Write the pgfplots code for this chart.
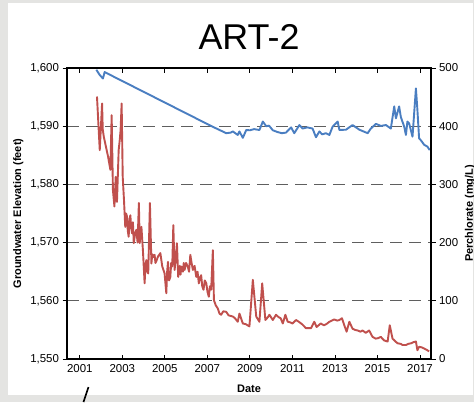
\documentclass[border=0pt]{standalone}
\usepackage{pgfplots}
\pgfplotsset{compat=1.18}
\usepackage{fontspec}
\setmainfont{Liberation Sans}
\definecolor{gwblue}{RGB}{74,126,193}
\definecolor{pcred}{RGB}{192,80,77}
\definecolor{bggray}{RGB}{228,228,226}
\definecolor{griddash}{RGB}{95,95,95}
\begin{document}
\begin{tikzpicture}[x=1bp,y=1bp]
\useasboundingbox (0,0) rectangle (474,402);
\fill[bggray] (0,0) rectangle (474,402);
\fill[white] (8,7) rectangle (473,399);
\draw[black,line width=1.6bp] (88.5,15) -- (86.5,9) -- (83.5,0);
\node[font=\fontsize{36}{40}\selectfont] at (249,365) {ART-2};
\begin{axis}[
  at={(67bp,43bp)}, anchor=south west,
  scale only axis, width=364bp, height=291bp,
  xmin=2000.4, xmax=2017.52,
  ymin=1550, ymax=1600,
  xtick={2001,2003,...,2017},
  ytick={1550,1560,...,1600},
  xtick pos=both, ytick pos=left,
  xtick align=inside, ytick align=outside,
  major tick length=4.5bp,
  tick style={black, line width=0.8bp},
  axis line style={black, line width=1.5bp},
  ymajorgrids,
  major grid style={griddash, line width=0.9bp, dash pattern=on 12bp off 7bp},
  /pgf/number format/assume math mode=true,
  xticklabel style={font=\fontsize{11.5}{13}\selectfont, /pgf/number format/1000 sep={}, yshift=-2bp},
  yticklabel style={font=\fontsize{11.5}{13}\selectfont, /pgf/number format/1000 sep={,}},
  xlabel={Date},
  ylabel={Groundwater Elevation (feet)},
  xlabel style={font=\bfseries\fontsize{11}{13}\selectfont, yshift=-5bp},
  ylabel style={font=\bfseries\fontsize{11}{13}\selectfont},
  clip=true,
]
\addplot[gwblue, line width=1.9bp, line join=round] coordinates {
(2001.78,1599.7) (2001.94,1598.8) (2002.09,1598.2) (2002.17,1599.3)
(2007.2,1590.0) (2007.89,1588.8) (2008.1,1588.9) (2008.2,1589.1)
(2008.43,1588.5) (2008.51,1589.1) (2008.67,1588.0) (2008.83,1589.35)
(2009.0,1589.3) (2009.2,1589.5) (2009.45,1589.35) (2009.61,1590.8)
(2009.77,1590.0) (2009.9,1590.1) (2010.08,1589.3) (2010.3,1589.0)
(2010.5,1588.8) (2010.70,1588.9) (2010.94,1589.8) (2011.09,1588.8)
(2011.33,1590.2) (2011.48,1589.6) (2011.7,1589.8) (2011.95,1589.6)
(2012.11,1588.1) (2012.27,1589.1) (2012.4,1588.6) (2012.58,1588.8)
(2012.74,1588.5) (2012.89,1589.9) (2013.13,1590.8) (2013.21,1589.35)
(2013.52,1589.4) (2013.83,1590.2) (2014.15,1589.4) (2014.54,1588.8)
(2014.69,1589.6) (2014.93,1590.4) (2015.16,1590.05) (2015.40,1590.2)
(2015.63,1589.6) (2015.79,1593.4) (2015.87,1591.35) (2016.02,1593.4)
(2016.10,1591.6) (2016.26,1589.9) (2016.34,1588.5) (2016.41,1590.8)
(2016.49,1590.5) (2016.65,1588.2) (2016.81,1596.5) (2016.88,1592.8)
(2016.96,1587.9) (2017.04,1587.6) (2017.20,1586.8) (2017.35,1586.5)
(2017.46,1585.9)
};
\end{axis}
\begin{axis}[
  at={(67bp,43bp)}, anchor=south west,
  scale only axis, width=364bp, height=291bp,
  xmin=2000.4, xmax=2017.52,
  ymin=0, ymax=500,
  axis x line=none,
  axis y line*=right,
  ytick={0,100,...,500},
  ytick align=outside,
  major tick length=4.5bp,
  tick style={black, line width=0.8bp},
  axis line style={black, line width=1.5bp},
  /pgf/number format/assume math mode=true,
  yticklabel style={font=\fontsize{11.5}{13}\selectfont},
  ylabel={Perchlorate (mg/L)},
  ylabel style={font=\bfseries\fontsize{11}{13}\selectfont},
  clip=true,
]
\addplot[pcred, line width=1.9bp, line join=round] coordinates {
(2001.81,451) (2001.94,359) (2002.05,439) (2002.08,395) (2002.13,382)
(2002.33,348) (2002.44,325) (2002.50,419) (2002.56,290) (2002.63,262)
(2002.69,313) (2002.75,270) (2002.83,359) (2002.88,376) (2002.92,393)
(2002.97,439) (2003.02,313) (2003.08,273) (2003.14,227) (2003.18,250)
(2003.22,245) (2003.26,220) (2003.30,210) (2003.34,240) (2003.38,247)
(2003.42,225) (2003.46,216) (2003.50,235) (2003.54,199) (2003.60,215)
(2003.66,222) (2003.72,200) (2003.78,268) (2003.82,199) (2003.86,215)
(2003.90,227) (2003.97,187) (2004.05,130) (2004.09,160) (2004.13,170)
(2004.18,150) (2004.22,147) (2004.30,268) (2004.37,164) (2004.41,180)
(2004.45,175) (2004.52,179) (2004.56,165) (2004.60,168) (2004.68,176)
(2004.79,182) (2004.88,159) (2004.99,147) (2005.07,113) (2005.11,150)
(2005.15,167) (2005.20,135) (2005.26,141) (2005.30,165) (2005.35,159)
(2005.40,230) (2005.46,153) (2005.51,170) (2005.57,199) (2005.63,141)
(2005.70,160) (2005.74,145) (2005.77,159) (2005.85,150) (2005.89,165)
(2005.93,153) (2006.00,165) (2006.08,159) (2006.14,150) (2006.20,179)
(2006.26,165) (2006.32,153) (2006.40,160) (2006.48,141) (2006.54,150)
(2006.60,130) (2006.66,140) (2006.71,144) (2006.76,125) (2006.82,119)
(2006.88,135) (2006.95,130) (2007.01,115) (2007.07,107) (2007.12,125)
(2007.18,119) (2007.26,187) (2007.31,101) (2007.40,92)
(2007.49,87) (2007.57,78) (2007.65,76) (2007.75,82) (2007.89,81)
(2008.0,75) (2008.2,73) (2008.30,70) (2008.43,64) (2008.51,78)
(2008.67,61) (2008.80,60) (2008.98,56) (2009.14,136) (2009.30,73)
(2009.45,64) (2009.58,130) (2009.73,67) (2009.85,72) (2009.92,76)
(2010.08,67) (2010.23,76) (2010.35,72) (2010.45,70) (2010.55,61)
(2010.67,76) (2010.78,64) (2010.90,63) (2011.01,61) (2011.17,67)
(2011.30,64) (2011.45,60) (2011.64,53) (2011.88,53) (2012.03,64)
(2012.14,55) (2012.33,61) (2012.49,58) (2012.60,60) (2012.74,64)
(2012.85,66) (2012.97,68) (2013.10,66) (2013.21,67) (2013.33,70)
(2013.44,58) (2013.55,47) (2013.68,64) (2013.83,52) (2013.95,50)
(2014.07,49) (2014.20,47) (2014.30,49) (2014.45,45) (2014.61,49)
(2014.77,38) (2014.92,35) (2015.05,36) (2015.16,38) (2015.31,32)
(2015.48,30) (2015.58,58) (2015.71,35) (2015.85,30) (2015.95,27)
(2016.10,26) (2016.18,24) (2016.34,24) (2016.45,26) (2016.58,27)
(2016.70,29) (2016.81,30) (2016.88,15) (2016.96,21) (2017.08,20)
(2017.20,18) (2017.35,15) (2017.43,13)
};
\end{axis}
\end{tikzpicture}
\end{document}
